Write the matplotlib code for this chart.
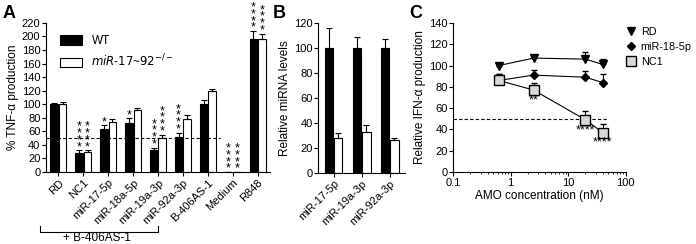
import numpy as np
import matplotlib
matplotlib.use("Agg")
import matplotlib.pyplot as plt
from matplotlib.lines import Line2D
from matplotlib.patches import Patch

plt.rcParams['font.family'] = ['Liberation Sans', 'DejaVu Sans']
plt.rcParams['font.size'] = 8

# panel A data
a_labels = ['RD', 'NC1', 'miR-17-5p', 'miR-18a-5p', 'miR-19a-3p', 'miR-92a-3p',
            'B-406AS-1', 'Medium', 'R848']
a_wt = [100, 28, 63, 72, 32, 52, 100, 0, 197]
a_wt_err = [2, 4, 6, 7, 4, 6, 7, 0, 11]
a_ko = [100, 30, 74, 91, 50, 78, 120, 0, 196]
a_ko_err = [3, 2, 4, 4, 5, 6, 3, 0, 8]
a_wt_stars = [0, 4, 1, 1, 4, 4, 0, 4, 4]
a_ko_stars = [0, 4, 0, 0, 4, 0, 0, 4, 4]

# panel B data
b_labels = ['miR-17-5p', 'miR-19a-3p', 'miR-92a-3p']
b_wt = [100, 100, 100]
b_wt_err = [16, 9, 7]
b_ko = [28, 33, 26]
b_ko_err = [4, 5, 2]

# panel C data
c_conc = [0.625, 2.5, 20, 40]
c_rd = [100, 107, 106, 101]
c_rd_err = [1, 2, 7, 5]
c_18 = [86, 91, 89, 84]
c_18_err = [6, 5, 6, 8]
c_nc1 = [86, 77, 49, 37]
c_nc1_err = [6, 7, 8, 8]
c_stars = ['', '**', '****', '****']

fig = plt.figure(figsize=(6.96, 2.44), dpi=100)

def style(ax):
    ax.spines['top'].set_visible(False)
    ax.spines['right'].set_visible(False)
    ax.tick_params(length=3, width=0.8, labelsize=8, pad=1)

w = 0.3
off = 0.17
ekw = dict(elinewidth=0.8, capsize=2, capthick=0.8, ecolor='black')

# ---- A
axA = fig.add_axes([0.066, 0.295, 0.322, 0.611])
x = np.arange(len(a_labels))
axA.bar(x - off, a_wt, w, color='black', edgecolor='black', lw=0.8)
axA.bar(x + off, a_ko, w, color='white', edgecolor='black', lw=0.8)
axA.errorbar(x - off, a_wt, yerr=[np.zeros(len(x)), a_wt_err], fmt='none', **ekw)
axA.errorbar(x + off, a_ko, yerr=[np.zeros(len(x)), a_ko_err], fmt='none', **ekw)
for i in range(len(x)):
    for xx, v, e, n in [(x[i] - off, a_wt[i], a_wt_err[i], a_wt_stars[i]),
                        (x[i] + off, a_ko[i], a_ko_err[i], a_ko_stars[i])]:
        if n:
            axA.text(xx, v + e - 4, '\n'.join(['*'] * n), ha='center', va='bottom',
                     fontsize=9, linespacing=0.42)
axA.axhline(50, xmin=0, xmax=0.775, ls='--', color='black', lw=0.8, dashes=(3, 2))
axA.set_xlim(-0.5, len(x) - 0.5)
axA.set_ylim(0, 220)
axA.set_yticks(np.arange(0, 221, 20))
axA.set_xticks(x)
axA.set_xticklabels(a_labels, rotation=45, ha='right', rotation_mode='anchor')
axA.set_ylabel('% TNF-\u03b1 production', fontsize=8.5, labelpad=2)
style(axA)
legA = [Patch(facecolor='black', edgecolor='black', lw=0.8, label='WT'),
        Patch(facecolor='white', edgecolor='black', lw=0.8,
              label='$\\it{miR}$-$\\it{17}$~$\\it{92}^{-/-}$')]
axA.legend(handles=legA, loc='upper left', bbox_to_anchor=(0.04, 0.95), frameon=False,
           fontsize=8.5, handlelength=1.9, handleheight=0.9, borderaxespad=0,
           labelspacing=0.5)
# bracket under the AMO groups
bx0, bx1 = -0.74, 4.0
yb = -0.40
axA.plot([bx0, bx0, bx1, bx1], [yb + 0.04, yb, yb, yb + 0.04], color='black',
         lw=0.8, transform=axA.get_xaxis_transform(), clip_on=False)
axA.text(1.55, yb - 0.045, '+ B-406AS-1', ha='center', va='center',
         fontsize=8.5, transform=axA.get_xaxis_transform())
fig.text(0.003, 0.925, 'A', fontsize=13, fontweight='bold')

# ---- B
axB = fig.add_axes([0.457, 0.291, 0.125, 0.615])
xb = np.arange(len(b_labels))
axB.bar(xb - off, b_wt, w, color='black', edgecolor='black', lw=0.8)
axB.bar(xb + off, b_ko, w, color='white', edgecolor='black', lw=0.8)
axB.errorbar(xb - off, b_wt, yerr=[np.zeros(3), b_wt_err], fmt='none', **ekw)
axB.errorbar(xb + off, b_ko, yerr=[np.zeros(3), b_ko_err], fmt='none', **ekw)
axB.set_xlim(-0.55, len(xb) - 0.45)
axB.set_ylim(0, 120)
axB.set_yticks(np.arange(0, 121, 20))
axB.set_xticks(xb)
axB.set_xticklabels(b_labels, rotation=45, ha='right', rotation_mode='anchor')
axB.set_ylabel('Relative miRNA levels', fontsize=8.5, labelpad=2)
style(axB)
fig.text(0.392, 0.925, 'B', fontsize=13, fontweight='bold')

# ---- C
axC = fig.add_axes([0.651, 0.295, 0.248, 0.611])
axC.axhline(50, xmin=0, xmax=0.9, ls='--', color='black', lw=0.8, dashes=(3, 2))
axC.errorbar(c_conc, c_rd, yerr=[np.zeros(4), c_rd_err], fmt='-v', color='black',
             mfc='black', ms=6, lw=0.8, capsize=2.5, elinewidth=0.8)
axC.errorbar(c_conc, c_18, yerr=[np.zeros(4), c_18_err], fmt='-D', color='black',
             mfc='black', ms=4, lw=0.8, capsize=2.5, elinewidth=0.8)
axC.errorbar(c_conc, c_nc1, yerr=[np.zeros(4), c_nc1_err], fmt='-s', color='black',
             mfc='#d9d9d9', mec='black', ms=7, lw=0.8, capsize=2.5, elinewidth=0.8)
for xc, v, s in zip(c_conc, c_nc1, c_stars):
    if s:
        axC.text(xc, v - 4, s, ha='center', va='top', fontsize=9)
axC.set_xscale('log')
axC.set_xlim(0.1, 100)
axC.set_ylim(0, 140)
axC.set_yticks(np.arange(0, 141, 20))
axC.set_xticks([0.1, 1, 10, 100])
axC.set_xticklabels(['0.1', '1', '10', '100'])
axC.set_xlabel('AMO concentration (nM)', fontsize=8.5, labelpad=2)
axC.set_ylabel('Relative IFN-\u03b1 production', fontsize=8.5, labelpad=2)
style(axC)
axC.tick_params(which='minor', length=1.5, width=0.6)
legC = [Line2D([], [], ls='none', marker='v', color='black', ms=6, label='RD'),
        Line2D([], [], ls='none', marker='D', color='black', ms=4, label='miR-18-5p'),
        Line2D([], [], ls='none', marker='s', mfc='#d9d9d9', mec='black', ms=7,
               label='NC1')]
axC.legend(handles=legC, loc='upper left', bbox_to_anchor=(0.98, 1.0), frameon=False,
           fontsize=7.8, handlelength=0.9, handletextpad=0.4, borderaxespad=0,
           labelspacing=0.45)
fig.text(0.588, 0.925, 'C', fontsize=13, fontweight='bold')

fig.savefig('out.png', dpi=100)
